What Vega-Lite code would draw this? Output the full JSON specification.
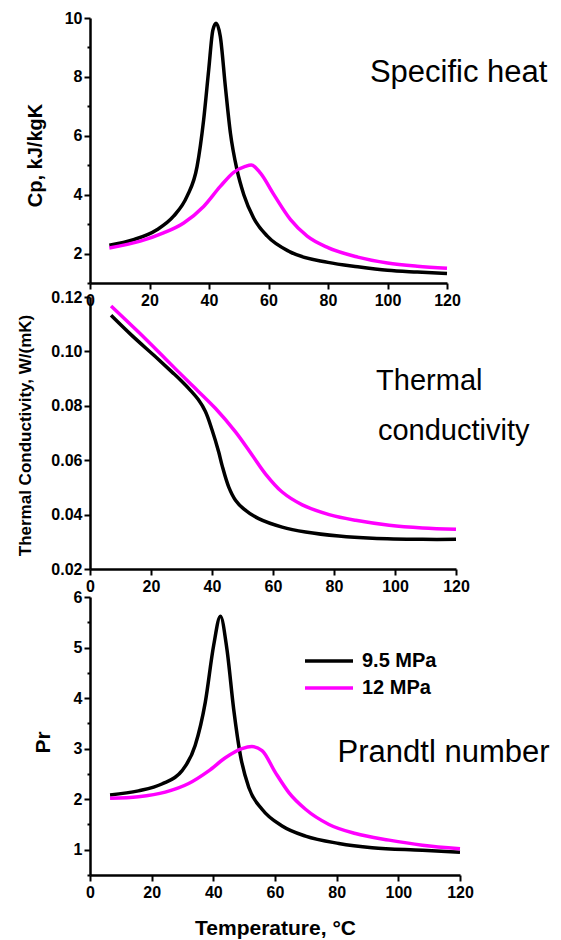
{
  "$schema": "https://vega.github.io/schema/vega-lite/v6.json",
  "padding": {"left": 16, "top": 10, "right": 5, "bottom": 5},
  "bounds": "flush",
  "spacing": 14,
  "config": {
    "view": {"stroke": null},
    "font": "Liberation Sans",
    "axis": {
      "domainColor": "black", "domainWidth": 2.5, "tickColor": "black", "tickWidth": 2,
      "labelFont": "Liberation Sans", "labelFontWeight": "bold", "labelFontSize": 16, "labelColor": "black",
      "titleFont": "Liberation Sans", "titleFontWeight": "bold", "titleColor": "black",
      "grid": false, "labelPadding": 2, "labelOverlap": false, "labelFlush": false, "labelBound": false
    },
    "line": {"strokeWidth": 3.5, "interpolate": "monotone"}
  },
  "resolve": {"legend": {"color": "independent"}, "scale": {"y": "independent"}},
  "datasets": {
    "cp": [
      {"T": 6.5, "P": "9.5 MPa", "v": 2.28}, {"T": 14.6, "P": "9.5 MPa", "v": 2.47}, {"T": 22.5, "P": "9.5 MPa", "v": 2.81},
      {"T": 28.1, "P": "9.5 MPa", "v": 3.27}, {"T": 32.6, "P": "9.5 MPa", "v": 3.94}, {"T": 36, "P": "9.5 MPa", "v": 4.96},
      {"T": 38.2, "P": "9.5 MPa", "v": 6.54}, {"T": 39.9, "P": "9.5 MPa", "v": 8.24}, {"T": 41.3, "P": "9.5 MPa", "v": 9.59},
      {"T": 42.4, "P": "9.5 MPa", "v": 9.82}, {"T": 43.8, "P": "9.5 MPa", "v": 9.37}, {"T": 45.5, "P": "9.5 MPa", "v": 7.67},
      {"T": 47.2, "P": "9.5 MPa", "v": 6.09}, {"T": 49.4, "P": "9.5 MPa", "v": 4.85}, {"T": 51.7, "P": "9.5 MPa", "v": 4.0},
      {"T": 55, "P": "9.5 MPa", "v": 3.21}, {"T": 59.6, "P": "9.5 MPa", "v": 2.59}, {"T": 67.4, "P": "9.5 MPa", "v": 2.05},
      {"T": 80, "P": "9.5 MPa", "v": 1.7}, {"T": 90, "P": "9.5 MPa", "v": 1.55}, {"T": 100, "P": "9.5 MPa", "v": 1.43},
      {"T": 110, "P": "9.5 MPa", "v": 1.37}, {"T": 120, "P": "9.5 MPa", "v": 1.32},
      {"T": 6.5, "P": "12 MPa", "v": 2.19}, {"T": 16.9, "P": "12 MPa", "v": 2.42}, {"T": 24.7, "P": "12 MPa", "v": 2.7},
      {"T": 31.5, "P": "12 MPa", "v": 3.04}, {"T": 38.2, "P": "12 MPa", "v": 3.6}, {"T": 43.8, "P": "12 MPa", "v": 4.28},
      {"T": 48.3, "P": "12 MPa", "v": 4.76}, {"T": 52.2, "P": "12 MPa", "v": 4.96}, {"T": 54.2, "P": "12 MPa", "v": 5.01},
      {"T": 57.3, "P": "12 MPa", "v": 4.73}, {"T": 61.8, "P": "12 MPa", "v": 4.0}, {"T": 67.4, "P": "12 MPa", "v": 3.15},
      {"T": 73, "P": "12 MPa", "v": 2.59}, {"T": 80, "P": "12 MPa", "v": 2.2}, {"T": 90, "P": "12 MPa", "v": 1.88},
      {"T": 100, "P": "12 MPa", "v": 1.68}, {"T": 110, "P": "12 MPa", "v": 1.57}, {"T": 120, "P": "12 MPa", "v": 1.5}
    ],
    "k": [
      {"T": 6.9, "P": "9.5 MPa", "v": 0.1133}, {"T": 13.7, "P": "9.5 MPa", "v": 0.1059}, {"T": 21.4, "P": "9.5 MPa", "v": 0.0981},
      {"T": 27, "P": "9.5 MPa", "v": 0.0923}, {"T": 30, "P": "9.5 MPa", "v": 0.0891}, {"T": 33, "P": "9.5 MPa", "v": 0.0856},
      {"T": 35.5, "P": "9.5 MPa", "v": 0.0823}, {"T": 37.8, "P": "9.5 MPa", "v": 0.078}, {"T": 40, "P": "9.5 MPa", "v": 0.0712},
      {"T": 42.2, "P": "9.5 MPa", "v": 0.063}, {"T": 43.3, "P": "9.5 MPa", "v": 0.0581}, {"T": 45.5, "P": "9.5 MPa", "v": 0.0501},
      {"T": 47.7, "P": "9.5 MPa", "v": 0.0453}, {"T": 50.5, "P": "9.5 MPa", "v": 0.042}, {"T": 55.3, "P": "9.5 MPa", "v": 0.0385},
      {"T": 63, "P": "9.5 MPa", "v": 0.0354}, {"T": 70.7, "P": "9.5 MPa", "v": 0.0336}, {"T": 81.6, "P": "9.5 MPa", "v": 0.0321},
      {"T": 92.6, "P": "9.5 MPa", "v": 0.0313}, {"T": 109, "P": "9.5 MPa", "v": 0.0309}, {"T": 120, "P": "9.5 MPa", "v": 0.0309},
      {"T": 6.9, "P": "12 MPa", "v": 0.1167}, {"T": 15.9, "P": "12 MPa", "v": 0.1071}, {"T": 24.7, "P": "12 MPa", "v": 0.0973},
      {"T": 32.3, "P": "12 MPa", "v": 0.0888}, {"T": 41.1, "P": "12 MPa", "v": 0.0791}, {"T": 47.7, "P": "12 MPa", "v": 0.0704},
      {"T": 53.2, "P": "12 MPa", "v": 0.0618}, {"T": 57.5, "P": "12 MPa", "v": 0.055}, {"T": 63, "P": "12 MPa", "v": 0.0483},
      {"T": 69.6, "P": "12 MPa", "v": 0.0436}, {"T": 78.4, "P": "12 MPa", "v": 0.04}, {"T": 87.1, "P": "12 MPa", "v": 0.0379},
      {"T": 98.1, "P": "12 MPa", "v": 0.0361}, {"T": 109, "P": "12 MPa", "v": 0.0351}, {"T": 120, "P": "12 MPa", "v": 0.0346}
    ],
    "pr": [
      {"T": 6.5, "P": "9.5 MPa", "v": 2.085}, {"T": 15.7, "P": "9.5 MPa", "v": 2.165}, {"T": 23.3, "P": "9.5 MPa", "v": 2.3},
      {"T": 29.8, "P": "9.5 MPa", "v": 2.56}, {"T": 34.1, "P": "9.5 MPa", "v": 3.06}, {"T": 37.4, "P": "9.5 MPa", "v": 3.92},
      {"T": 40.1, "P": "9.5 MPa", "v": 5.04}, {"T": 42.3, "P": "9.5 MPa", "v": 5.62}, {"T": 44.4, "P": "9.5 MPa", "v": 4.97},
      {"T": 46.6, "P": "9.5 MPa", "v": 3.78}, {"T": 48.8, "P": "9.5 MPa", "v": 2.86}, {"T": 51.5, "P": "9.5 MPa", "v": 2.23},
      {"T": 55.8, "P": "9.5 MPa", "v": 1.8}, {"T": 62.3, "P": "9.5 MPa", "v": 1.47}, {"T": 69.9, "P": "9.5 MPa", "v": 1.27},
      {"T": 80.7, "P": "9.5 MPa", "v": 1.125}, {"T": 91.5, "P": "9.5 MPa", "v": 1.04}, {"T": 107.8, "P": "9.5 MPa", "v": 0.99},
      {"T": 120, "P": "9.5 MPa", "v": 0.95},
      {"T": 6.5, "P": "12 MPa", "v": 2.02}, {"T": 15.7, "P": "12 MPa", "v": 2.05}, {"T": 24.4, "P": "12 MPa", "v": 2.14},
      {"T": 32, "P": "12 MPa", "v": 2.31}, {"T": 38.5, "P": "12 MPa", "v": 2.56}, {"T": 43.9, "P": "12 MPa", "v": 2.82},
      {"T": 49.3, "P": "12 MPa", "v": 3.0}, {"T": 52.5, "P": "12 MPa", "v": 3.04}, {"T": 55.8, "P": "12 MPa", "v": 2.96},
      {"T": 60.1, "P": "12 MPa", "v": 2.53}, {"T": 64.5, "P": "12 MPa", "v": 2.13}, {"T": 69.9, "P": "12 MPa", "v": 1.8},
      {"T": 77.5, "P": "12 MPa", "v": 1.5}, {"T": 86.1, "P": "12 MPa", "v": 1.32}, {"T": 97, "P": "12 MPa", "v": 1.19},
      {"T": 107.8, "P": "12 MPa", "v": 1.09}, {"T": 120, "P": "12 MPa", "v": 1.02}
    ]
  },
  "vconcat": [
    {
      "width": 357, "height": 265,
      "data": {"name": "cp"},
      "resolve": {"axis": {"y": "independent"}},
      "layer": [
        {
          "mark": {"type": "line"},
          "encoding": {
            "x": {"field": "T", "type": "quantitative", "scale": {"domain": [0, 120], "nice": false},
              "axis": {"title": null, "values": [0, 10, 20, 30, 40, 50, 60, 70, 80, 90, 100, 110, 120],
                "labelExpr": "datum.value % 20 === 0 ? datum.label : ''",
                "tickSize": {"condition": {"test": "datum.value % 20 === 0", "value": 6}, "value": 3}, "labelPadding": 3}},
            "y": {"field": "v", "type": "quantitative", "scale": {"domain": [1, 10], "nice": false, "zero": false},
              "axis": {"orient": "left", "title": "Cp, kJ/kgK", "titleFontSize": 20, "titleX": -55, "titleY": 137, "titleBaseline": "middle", "titleAngle": -90,
                "values": [2, 4, 6, 8, 10], "tickSize": 6}},
            "color": {"field": "P", "type": "nominal", "scale": {"domain": ["9.5 MPa", "12 MPa"], "range": ["#000000", "#ff00ff"]}, "legend": null}
          }
        },
        {
          "data": {"values": [{}]},
          "mark": {"type": "text", "text": "Specific heat", "align": "left", "baseline": "alphabetic", "fontSize": 31, "font": "Liberation Sans", "color": "black"},
          "encoding": {"x": {"datum": 94.1, "type": "quantitative"},
            "y": {"datum": 7.81, "type": "quantitative",
              "axis": {"orient": "left", "title": null, "values": [1, 3, 5, 7, 9], "labels": false, "domain": false, "tickSize": 3}}}
        }
      ]
    },
    {
      "width": 366, "height": 272,
      "data": {"name": "k"},
      "layer": [
        {
          "mark": {"type": "line", "interpolate": "catmull-rom"},
          "encoding": {
            "x": {"field": "T", "type": "quantitative", "scale": {"domain": [0, 120], "nice": false},
              "axis": {"title": null, "values": [0, 10, 20, 30, 40, 50, 60, 70, 80, 90, 100, 110, 120],
                "labelExpr": "datum.value % 20 === 0 ? datum.label : ''",
                "tickSize": {"condition": {"test": "datum.value % 20 === 0", "value": 6}, "value": 3}, "labelPadding": 3}},
            "y": {"field": "v", "type": "quantitative", "scale": {"domain": [0.02, 0.12], "nice": false, "zero": false},
              "axis": {"title": "Thermal Conductivity, W/(mK)", "titleFontSize": 17, "titleX": -65, "titleY": 138, "titleBaseline": "middle", "titleAngle": -90,
                "values": [0.02, 0.03, 0.04, 0.05, 0.06, 0.07, 0.08, 0.09, 0.1, 0.11, 0.12],
                "labelExpr": "round(datum.value * 100) % 2 === 0 ? format(datum.value, '.2f') : ''",
                "tickSize": {"condition": {"test": "round(datum.value * 100) % 2 === 0", "value": 6}, "value": 3}}},
            "color": {"field": "P", "type": "nominal", "scale": {"domain": ["9.5 MPa", "12 MPa"], "range": ["#000000", "#ff00ff"]}, "legend": null}
          }
        },
        {
          "data": {"values": [{}]},
          "mark": {"type": "text", "text": "Thermal", "align": "left", "baseline": "alphabetic", "fontSize": 29, "font": "Liberation Sans", "color": "black"},
          "encoding": {"x": {"datum": 93.8, "type": "quantitative"}, "y": {"datum": 0.0858, "type": "quantitative"}}
        },
        {
          "data": {"values": [{}]},
          "mark": {"type": "text", "text": "conductivity", "align": "left", "baseline": "alphabetic", "fontSize": 29, "font": "Liberation Sans", "color": "black"},
          "encoding": {"x": {"datum": 94.4, "type": "quantitative"}, "y": {"datum": 0.0674, "type": "quantitative"}}
        }
      ]
    },
    {
      "width": 370, "height": 292,
      "data": {"name": "pr"},
      "resolve": {"axis": {"y": "independent"}},
      "layer": [
        {
          "mark": {"type": "line"},
          "encoding": {
            "x": {"field": "T", "type": "quantitative", "scale": {"domain": [0, 120], "nice": false},
              "axis": {"title": "Temperature, °C", "titleFontSize": 21, "titleX": 185, "titleY": 53, "titleBaseline": "middle",
                "values": [0, 10, 20, 30, 40, 50, 60, 70, 80, 90, 100, 110, 120],
                "labelExpr": "datum.value % 20 === 0 ? datum.label : ''",
                "tickSize": {"condition": {"test": "datum.value % 20 === 0", "value": 6}, "value": 3}, "labelPadding": 3}},
            "y": {"field": "v", "type": "quantitative", "scale": {"domain": [0.5, 6], "nice": false, "zero": false, "range": [292, 14]},
              "axis": {"orient": "left", "title": "Pr", "titleFontSize": 21, "titleX": -47, "titleY": 159, "titleBaseline": "middle", "titleAngle": -90,
                "values": [1, 2, 3, 4, 5, 6], "tickSize": 6}},
            "color": {"field": "P", "type": "nominal", "scale": {"domain": ["9.5 MPa", "12 MPa"], "range": ["#000000", "#ff00ff"]},
              "legend": {"title": null, "orient": "none", "legendX": 227, "legendY": 66, "direction": "vertical",
                "symbolType": "M-2.4,0H2.4", "symbolSize": 400, "symbolStrokeWidth": 4,
                "labelFontSize": 20, "labelFontWeight": "bold", "labelFont": "Liberation Sans", "labelColor": "black",
                "rowPadding": 5, "labelOffset": 21}}
          }
        },
        {
          "data": {"values": [{}]},
          "mark": {"type": "text", "text": "Prandtl number", "align": "left", "baseline": "alphabetic", "fontSize": 31, "font": "Liberation Sans", "color": "black"},
          "encoding": {"x": {"datum": 80.3, "type": "quantitative"},
            "y": {"datum": 2.73, "type": "quantitative",
              "axis": {"orient": "left", "title": null, "values": [0.5, 1.5, 2.5, 3.5, 4.5, 5.5], "labels": false, "domain": false, "tickSize": 3}}}
        }
      ]
    }
  ]
}
